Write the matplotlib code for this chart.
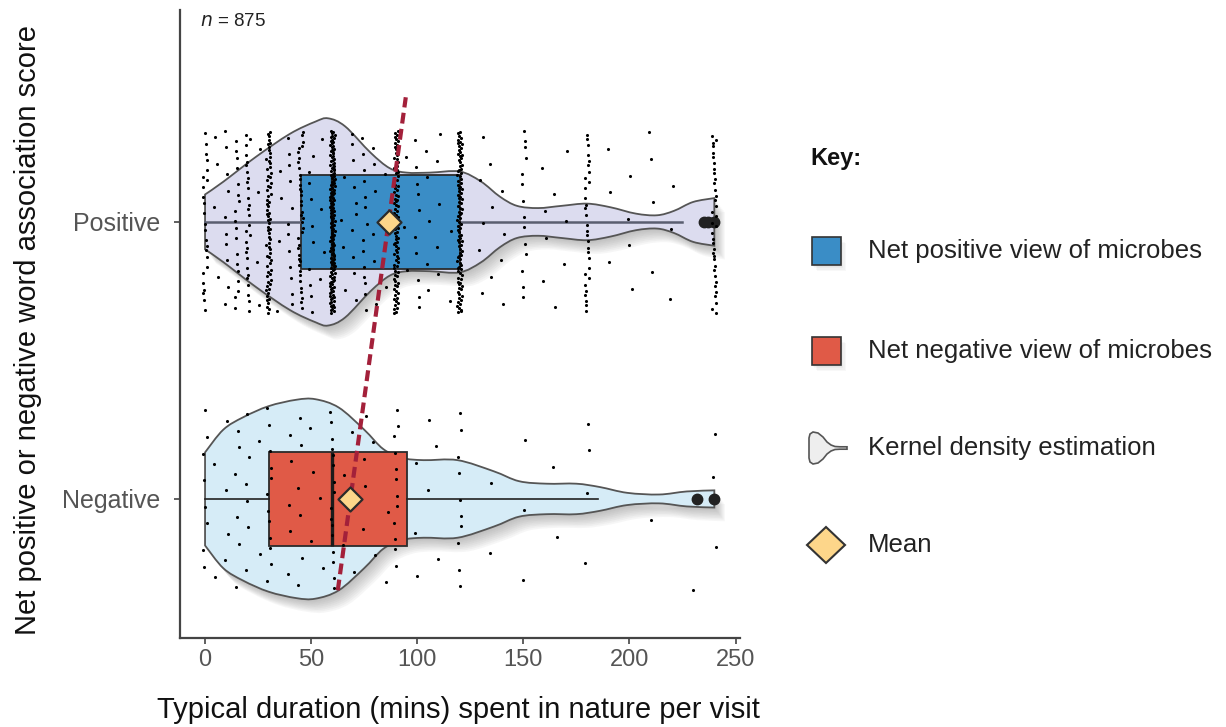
import numpy as np
import matplotlib
matplotlib.use("Agg")
import matplotlib.pyplot as plt
from matplotlib.patches import Polygon, Rectangle, PathPatch
from matplotlib.path import Path

plt.rcParams['font.family'] = ['Liberation Sans', 'DejaVu Sans']

# ---------------- data ----------------
categories = ["Negative", "Positive"]
cat_pos = [1, 2]
x_ticks = [0, 50, 100, 150, 200, 250]
n_total = 875

# box-plot statistics
box_q1 = [30, 45]
box_med = [60, 60]
box_q3 = [95, 120]
box_whislo = [0, 0]
box_whishi = [185, 225]
box_mean = [68.5, 86.5]
outliers_neg = [232, 240]
outliers_pos = [235, 237, 240]

# kernel density outlines (duration, half-width)
pos_kde_x = [0, 8.6, 24, 40, 52, 58, 66, 78, 87, 95, 106, 120, 130, 139, 147,
             157, 168, 180, 191, 203, 213, 221, 230, 240]
pos_kde_hw = [0.099, 0.145, 0.235, 0.318, 0.362, 0.374, 0.345, 0.25, 0.194, 0.178,
              0.178, 0.182, 0.146, 0.091, 0.058, 0.05, 0.058, 0.066, 0.053, 0.03,
              0.024, 0.04, 0.072, 0.086]
neg_kde_x = [0, 8.6, 18, 30, 43, 52, 63, 75, 84, 93, 103, 119, 136, 148, 161,
             175, 186, 199, 214, 227, 240]
neg_kde_hw = [0.168, 0.25, 0.295, 0.335, 0.358, 0.36, 0.33, 0.25, 0.18, 0.148,
              0.14, 0.14, 0.1, 0.064, 0.055, 0.055, 0.043, 0.022, 0.016, 0.027, 0.031]

# individual responses: duration values and how many answered each
pos_dur = [0, 5, 10, 15, 20, 25, 30, 35, 40, 45, 50, 55, 60, 65, 70, 75, 80, 85, 90,
           95, 100, 105, 110, 115, 120, 130, 135, 140, 150, 160, 165, 170, 180, 190,
           200, 210, 220, 240]
pos_cnt = [24, 4, 10, 18, 28, 4, 70, 4, 12, 38, 10, 4, 150, 4, 10, 14, 6, 3, 92,
           3, 10, 5, 5, 2, 100, 5, 3, 4, 14, 4, 2, 3, 30, 3, 4, 4, 3, 36]
neg_dur = [0, 5, 10, 15, 20, 25, 30, 40, 45, 50, 55, 60, 65, 70, 75, 80, 85, 90,
           100, 105, 110, 120, 135, 150, 165, 180, 210, 230, 240]
neg_cnt = [8, 2, 4, 6, 6, 2, 12, 5, 6, 3, 2, 16, 2, 3, 4, 2, 2, 12,
           3, 2, 2, 10, 2, 3, 2, 4, 1, 1, 3]

legend_labels = ["Net positive view of microbes", "Net negative view of microbes",
                 "Kernel density estimation", "Mean"]

# ---------------- styling ----------------
c_violin = {"Positive": "#DCDCEF", "Negative": "#D6ECF7"}
c_box = {"Positive": "#3A8DC6", "Negative": "#E05A47"}
c_mean = "#FDD68A"
c_trend = "#A3203A"

W, H = 1226, 727
fig = plt.figure(figsize=(W / 100, H / 100), dpi=100)
ax = fig.add_axes([180 / W, 1 - 638 / H, 560 / W, 628 / H])
ax.set_xlim(-11.8, 252.1)
ax.set_ylim(0.498, 2.765)


def smooth_edge(px, py):
    """Cubic Bezier (Catmull-Rom) path segments through the given outline points."""
    P = np.column_stack([px, py])
    n = len(P)
    verts, codes = [], []
    for i in range(n - 1):
        p0 = P[max(i - 1, 0)]
        p1, p2 = P[i], P[i + 1]
        p3 = P[min(i + 2, n - 1)]
        c1 = p1 + (p2 - p0) / 6.0
        c2 = p2 - (p3 - p1) / 6.0
        verts += [tuple(c1), tuple(c2), tuple(p2)]
        codes += [Path.CURVE4] * 3
    return verts, codes


def violin_path(y0, xs, hws, dx=0.0, dy=0.0):
    xs = np.asarray(xs, float) + dx
    hws = np.asarray(hws, float)
    top_y = y0 + hws + dy
    bot_y = y0 - hws + dy
    verts = [(xs[0], bot_y[0]), (xs[0], top_y[0])]
    codes = [Path.MOVETO, Path.LINETO]
    v, c = smooth_edge(xs, top_y)
    verts += v
    codes += c
    verts.append((xs[-1], bot_y[-1]))
    codes.append(Path.LINETO)
    v, c = smooth_edge(xs[::-1], bot_y[::-1])
    verts += v
    codes += c
    verts.append((xs[0], bot_y[0]))
    codes.append(Path.CLOSEPOLY)
    return Path(verts, codes)


def draw_violin(y0, xs, hws, face):
    for k in range(1, 10):
        ax.add_patch(PathPatch(violin_path(y0, xs, hws, 0.55 * k, -0.0055 * k),
                               facecolor="#606060", alpha=0.05, lw=0, zorder=1))
    ax.add_patch(PathPatch(violin_path(y0, xs, hws), facecolor=face,
                           edgecolor="#555555", lw=1.3, zorder=2))


draw_violin(cat_pos[1], pos_kde_x, pos_kde_hw, c_violin["Positive"])
draw_violin(cat_pos[0], neg_kde_x, neg_kde_hw, c_violin["Negative"])

stats = []
fliers = [outliers_neg, outliers_pos]
for i in range(2):
    stats.append(dict(med=box_med[i], q1=box_q1[i], q3=box_q3[i],
                      whislo=box_whislo[i], whishi=box_whishi[i],
                      fliers=fliers[i], mean=box_mean[i]))
kw = dict(positions=cat_pos, widths=0.34, patch_artist=True, showcaps=False,
          showmeans=False,
          boxprops=dict(edgecolor="#2b2b2b", lw=1.3),
          medianprops=dict(color="#1b1b1b", lw=2.4),
          whiskerprops=dict(color="#444444", lw=1.5),
          flierprops=dict(marker="o", markerfacecolor="#222222",
                          markeredgecolor="#222222", markersize=7.5),
          manage_ticks=False, zorder=3)
try:
    bp = ax.bxp(stats, orientation="horizontal", **kw)
except TypeError:
    bp = ax.bxp(stats, vert=False, **kw)
for patch, cat in zip(bp["boxes"], categories):
    patch.set_facecolor(c_box[cat])
for j, w in enumerate(bp["whiskers"]):
    w.set_color("#222222" if j < 2 else "#5a5e70")
    w.set_linewidth(1.2 if j < 2 else 1.8)

# jittered raw responses (deterministic jitter layout)
PHI = 0.6180339887


def strip(durs, cnts, y0):
    vals = np.repeat(np.asarray(durs, float), cnts)
    idx = np.arange(len(vals))
    dy = ((idx * PHI + 0.13) % 1 - 0.5) * 0.66
    dx = ((idx * 0.7548776662 + 0.31) % 1 - 0.5) * 2.2
    ax.scatter(vals + dx, y0 + dy, s=5, c="black", lw=0, zorder=4)


strip(pos_dur, pos_cnt, cat_pos[1])
strip(neg_dur, neg_cnt, cat_pos[0])

# trend line through the two means
trend_y = np.array([0.67, 2.45])
slope = (box_mean[1] - box_mean[0]) / (cat_pos[1] - cat_pos[0])
trend_x = box_mean[0] + (trend_y - cat_pos[0]) * slope
ax.plot(trend_x, trend_y, color=c_trend, lw=3.0, ls=(0, (2.6, 1.3)), zorder=5)

ax.scatter(box_mean, cat_pos, marker="D", s=150, facecolor=c_mean,
           edgecolor="#2b2b2b", lw=1.6, zorder=6)

# axes styling
for s in ["top", "right"]:
    ax.spines[s].set_visible(False)
for s in ["left", "bottom"]:
    ax.spines[s].set_color("#444444")
    ax.spines[s].set_linewidth(1.6)
ax.set_xticks(x_ticks)
ax.set_xticklabels([str(t) for t in x_ticks])
ax.set_yticks(cat_pos)
ax.set_yticklabels(categories)
ax.tick_params(axis="x", length=4, width=1.2, color="#444444", labelsize=17,
               labelcolor="#555555", pad=4)
ax.tick_params(axis="y", length=4, width=1.2, color="#444444", labelsize=18,
               labelcolor="#555555", pad=10)
ax.text(0.036, 0.981, r"$\it{n}$ = %d" % n_total, transform=ax.transAxes,
        fontsize=13.5, va="center", ha="left", color="#222222")

fig.text(458 / W, 1 - 710 / H, "Typical duration (mins) spent in nature per visit",
         fontsize=21, ha="center", va="center", color="#111111")
fig.text(28 / W, 1 - 330 / H, "Net positive or negative word association score",
         fontsize=21, ha="center", va="center", rotation=90, color="#111111")

# ---------------- key ----------------
lax = fig.add_axes([0, 0, 1, 1])
lax.set_xlim(0, W)
lax.set_ylim(H, 0)
lax.axis("off")
lax.patch.set_alpha(0)

lax.text(810, 158, "Key:", fontsize=17, fontweight="bold", va="center", ha="left",
         color="#111111")
item_y = [251, 351, 448, 545]
text_x = 868
for yy, col in zip(item_y[:2], [c_box["Positive"], c_box["Negative"]]):
    for k in range(1, 5):
        lax.add_patch(Rectangle((812 + 1.2 * k, yy - 14 + 1.5 * k), 29, 28,
                                facecolor="#888888", alpha=0.06, lw=0))
    lax.add_patch(Rectangle((812, yy - 14), 29, 28, facecolor=col,
                            edgecolor="#333333", lw=1.2))
# kde glyph
yk = item_y[2]
gx = np.array([809, 810, 813, 818, 823, 827, 831, 835, 840, 847])
gh = np.array([10, 14, 16, 15, 11, 6, 3, 1.5, 1.2, 1.2])
lax.add_patch(Polygon(np.column_stack([np.r_[gx, gx[::-1]], np.r_[yk - gh, (yk + gh)[::-1]]]),
                      closed=True, facecolor="#EEEEEE", edgecolor="#555555", lw=1.2))
# mean glyph
ym = item_y[3]
lax.add_patch(Polygon([[807, ym], [826, ym - 18], [845, ym], [826, ym + 18]], closed=True,
                      facecolor=c_mean, edgecolor="#333333", lw=1.5))
for yy, lab in zip(item_y, legend_labels):
    lax.text(text_x, yy, lab, fontsize=18.5, va="center", ha="left", color="#222222")

fig.savefig("out.png", dpi=100)
